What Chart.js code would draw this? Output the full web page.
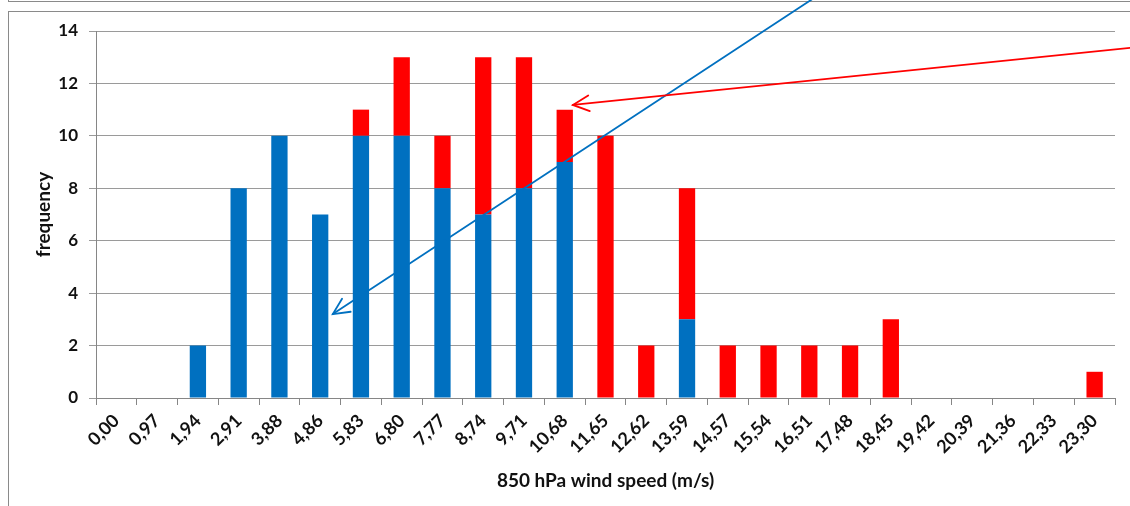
<!DOCTYPE html>
<html>
<head>
<meta charset="utf-8">
<script src="https://cdn.jsdelivr.net/npm/chart.js@4/dist/chart.umd.min.js"></script>
<style>
  html, body { margin:0; padding:0; background:#fff; }
  body { width:1130px; height:506px; position:relative; overflow:hidden; }
  #prevBox { position:absolute; left:8px; top:-20px; width:1200px; height:22px; border-left:1px solid #8a8a8a; border-bottom:1px solid #8a8a8a; box-sizing:border-box; }
  #chartBox { position:absolute; left:8px; top:11px; width:1200px; height:600px; border-left:1px solid #8a8a8a; border-top:1px solid #8a8a8a; box-sizing:border-box; }
  #wrap { position:absolute; left:0; top:0; width:1130px; height:506px; }
</style>
</head>
<body>
<div id="prevBox"></div>
<div id="chartBox"></div>
<div id="wrap"><canvas id="c" width="1130" height="506"></canvas></div>
<script>
// ---- data ----
const categories = ["0,00","0,97","1,94","2,91","3,88","4,86","5,83","6,80","7,77","8,74","9,71","10,68","11,65","12,62","13,59","14,57","15,54","16,51","17,48","18,45","19,42","20,39","21,36","22,33","23,30"];
const blueSeries = [0,0,2,8,10,7,10,10,8,7,8,9,0,0,3,0,0,0,0,0,0,0,0,0,0];
const redSeries  = [0,0,0,0,0,0,1,3,2,6,5,2,10,2,5,2,2,2,2,3,0,0,0,0,1];
const yTicks = [0,2,4,6,8,10,12,14];
const xTitle = "850 hPa wind speed (m/s)";
const yTitle = "frequency";
// arrow annotations in data units: [categoryIndex, value]
const blueArrowFrom = [17.4, 15.55];
const blueArrowTo   = [5.31, 3.2];
const redArrowFrom  = [25.1, 13.39];
const redArrowTo    = [11.2, 11.18];

const FONT = "Lato, 'Open Sans', sans-serif";

const arrowPlugin = {
  id: 'arrows',
  afterDraw(chart) {
    const ctx = chart.ctx, xs = chart.scales.x, ys = chart.scales.y;
    const draw = (from, to, color) => {
      const x1 = xs.getPixelForValue(from[0]), y1 = ys.getPixelForValue(from[1]);
      const x2 = xs.getPixelForValue(to[0]), y2 = ys.getPixelForValue(to[1]);
      const ang = Math.atan2(y1 - y2, x1 - x2);
      const L = 18, a = 0.45;
      ctx.save();
      ctx.strokeStyle = color; ctx.lineWidth = 1.8; ctx.lineCap = 'round';
      ctx.beginPath(); ctx.moveTo(x1, y1); ctx.lineTo(x2, y2); ctx.stroke();
      ctx.beginPath();
      ctx.moveTo(x2 + L*Math.cos(ang + a), y2 + L*Math.sin(ang + a));
      ctx.lineTo(x2, y2);
      ctx.lineTo(x2 + L*Math.cos(ang - a), y2 + L*Math.sin(ang - a));
      ctx.stroke();
      ctx.restore();
    };
    draw(blueArrowFrom, blueArrowTo, '#0070C0');
    draw(redArrowFrom, redArrowTo, '#FF0000');
  }
};

new Chart(document.getElementById('c'), {
  type: 'bar',
  data: {
    labels: categories,
    datasets: [
      { label: 'blue', data: blueSeries, backgroundColor: '#0070C0', barPercentage: 0.4, categoryPercentage: 1.0 },
      { label: 'red', data: redSeries, backgroundColor: '#FF0000', barPercentage: 0.4, categoryPercentage: 1.0 }
    ]
  },
  options: {
    responsive: false,
    animation: false,
    events: [],
    layout: { padding: { left: 28, top: 31, right: 15, bottom: 0 } },
    plugins: { legend: { display: false }, tooltip: { enabled: false } },
    scales: {
      x: {
        stacked: true,
        offset: true,
        border: { display: true, color: '#868686', width: 1 },
        grid: { offset: true, drawOnChartArea: false, drawTicks: true, tickLength: 7, color: '#868686' },
        ticks: { autoSkip: false, minRotation: 45, maxRotation: 45, padding: 5, color: '#111', font: { family: FONT, size: 18, weight: 'bold' } },
        title: { display: true, text: xTitle, color: '#111', font: { family: FONT, size: 19, weight: 'bold' }, padding: { top: 4, bottom: 14 } },
        afterFit(scale) { scale.height = 108; }
      },
      y: {
        stacked: true,
        min: 0, max: 14,
        afterBuildTicks(scale) { scale.ticks = yTicks.map(v => ({ value: v })); },
        border: { display: true, color: '#868686', width: 1 },
        grid: { color: '#9a9a9a', lineWidth: 1, drawTicks: true, tickLength: 7 },
        ticks: { padding: 11, color: '#111', font: { family: FONT, size: 17, weight: 'bold' } },
        title: { display: true, text: yTitle, color: '#111', font: { family: FONT, size: 19, weight: 'bold' }, padding: { top: 4, bottom: 4 } },
        afterFit(scale) { scale.width = 68; }
      }
    }
  },
  plugins: [arrowPlugin]
});
</script>
</body>
</html>
